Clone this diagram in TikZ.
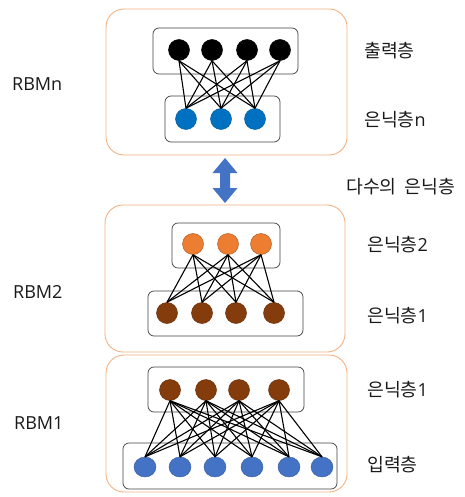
\documentclass[tikz,border=0pt]{standalone}
\usepackage{fontspec}
\setmainfont{Noto Sans CJK KR}
\newfontfamily\latinfont{Open Sans}
\usetikzlibrary{shapes.geometric}
\definecolor{rbmframe}{HTML}{F4B183}
\definecolor{layerframe}{HTML}{404040}
\definecolor{outblack}{HTML}{000000}
\definecolor{hidblue}{HTML}{0070C0}
\definecolor{inblue}{HTML}{4472C4}
\definecolor{hidorange}{HTML}{ED7D31}
\definecolor{hidbrown}{HTML}{843C0C}
\newcommand{\lat}[1]{{\latinfont\fontsize{18}{20}\selectfont #1}}
\begin{document}
\begin{tikzpicture}[x=1pt,y=-1pt,
  rbmbox/.style={draw=rbmframe,line width=0.9pt,rounded corners=18pt},
  layerbox/.style={draw=layerframe,line width=0.7pt,rounded corners=6pt},
  unit/.style={circle,inner sep=0pt,minimum size=21pt,line width=0.5pt},
  inunit/.style={ellipse,inner sep=0pt,minimum width=22pt,minimum height=20pt,fill=inblue,draw=inblue!80!black,line width=0.4pt},
  link/.style={black,line width=1.1pt},
  lbl/.style={anchor=west,inner sep=0pt,text height=12pt,text depth=0pt,
    font=\fontsize{18.3}{20}\selectfont,text=black!90}
]
\useasboundingbox (0,0) rectangle (464,497);

% RBM frames
\draw[rbmbox] (106,9) rectangle (347,155);
\draw[rbmbox] (105,205) rectangle (345,352);
\draw[rbmbox] (106,355) rectangle (347,492);

% layer frames
\draw[layerbox] (153,28) rectangle (298,74);
\draw[layerbox] (165,96) rectangle (280,142);
\draw[layerbox] (172,223) rectangle (280,268);
\draw[layerbox] (148,291) rectangle (303,336);
\draw[layerbox] (148,367) rectangle (304,412);
\draw[layerbox] (123,443) rectangle (337,489);

% RBMn units
\foreach \x [count=\i] in {179,212,247,280}
  \node[unit,fill=outblack,draw=black] (nt\i) at (\x,50) {};
\foreach \x [count=\i] in {186,221,255}
  \node[unit,fill=hidblue,draw=hidblue!85!black] (nb\i) at (\x,119) {};

% RBM2 units
\foreach \x [count=\i] in {193,228,261}
  \node[unit,fill=hidorange,draw=hidorange!75!black] (mt\i) at (\x,244) {};
\foreach \x [count=\i] in {167,202,236,274}
  \node[unit,fill=hidbrown,draw=hidbrown!80!black] (mb\i) at (\x,313) {};

% RBM1 units
\foreach \x [count=\i] in {170,206,239,279}
  \node[unit,fill=hidbrown,draw=hidbrown!80!black] (lt\i) at (\x,390) {};
\foreach \x [count=\i] in {145,180,215,252,289,322}
  \node[inunit] (lb\i) at (\x,467) {};

% full bipartite connections
\foreach \i in {1,...,4}
  \foreach \j in {1,...,3}
    \draw[link] (nt\i.south) -- (nb\j.north);
\foreach \i in {1,...,3}
  \foreach \j in {1,...,4}
    \draw[link] (mt\i.south) -- (mb\j.north);
\foreach \i in {1,...,4}
  \foreach \j in {1,...,6}
    \draw[link] (lt\i.south) -- (lb\j.north);

% stacking arrow
\fill[inblue] (225,158) -- (237.5,173) -- (230,173) -- (230,188) -- (237.5,188)
  -- (225,203) -- (212.5,188) -- (220,188) -- (220,173) -- (212.5,173) -- cycle;

% labels
\node[lbl] (rbmn) at (12,85) {\lat{RBMn}};
\node[lbl] (rbm2) at (13,292) {\lat{RBM2}};
\node[lbl] (rbm1) at (14,423) {\lat{RBM1}};

\node[lbl] (lout) at (364,52) {출력층};
\node[lbl] (lhn) at (364,121) {은닉층\lat{n}};
\node[lbl] (lmany) at (346,187) {다수의\hspace{8pt}은닉층};
\node[lbl] (lh2) at (367,245) {은닉층\lat{2}};
\node[lbl] (lh1a) at (367,316) {은닉층\lat{1}};
\node[lbl] (lh1b) at (367,390) {은닉층\lat{1}};
\node[lbl] (lin) at (367,465) {입력층};
\end{tikzpicture}
\end{document}
